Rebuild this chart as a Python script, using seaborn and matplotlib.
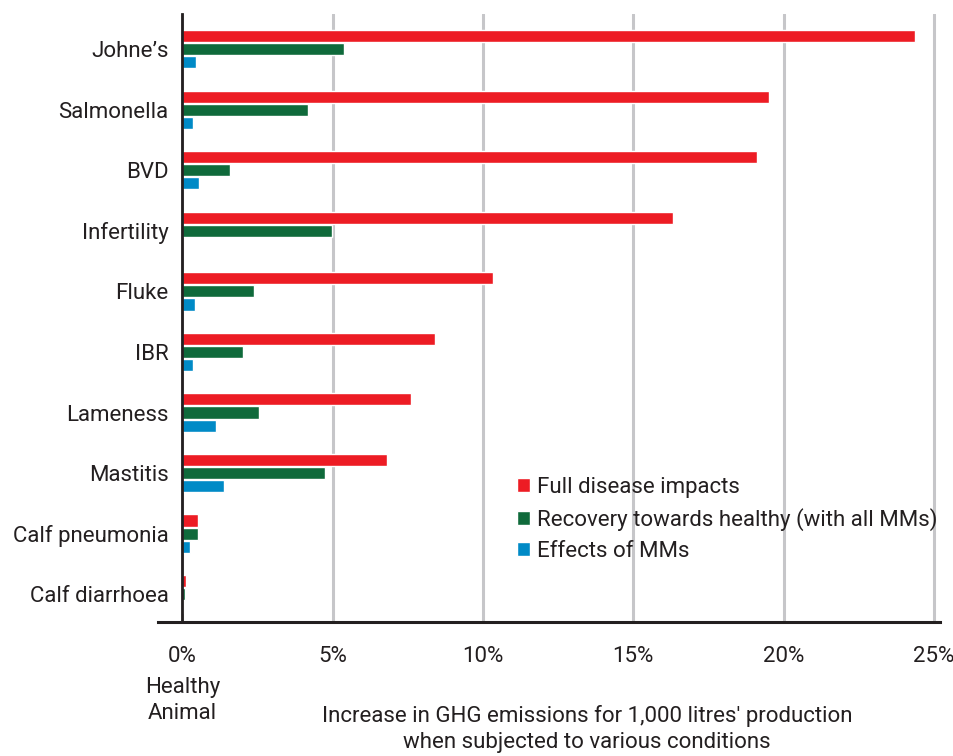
import pandas as pd
import seaborn as sns
import matplotlib.pyplot as plt
import matplotlib.transforms as mtransforms

# values (% increase in GHG per 1,000 litres)
conditions = ["Johne\u2019s", "Salmonella", "BVD", "Infertility", "Fluke", "IBR",
              "Lameness", "Mastitis", "Calf pneumonia", "Calf diarrhoea"]
full_impact = [24.38, 19.51, 19.12, 16.33, 10.34, 8.39, 7.59, 6.80, 0.51, 0.11]
recovery = [5.38, 4.18, 1.57, 4.99, 2.40, 2.03, 2.56, 4.74, 0.51, 0.08]
mm_effects = [0.44, 0.37, 0.54, 0.0, 0.41, 0.34, 1.13, 1.37, 0.24, 0.03]

series_names = ["Full disease impacts",
                "Recovery towards healthy (with all MMs)",
                "Effects of MMs"]
colours = ["#ED1C24", "#0F6A3B", "#008AC6"]
x_ticks = [0, 5, 10, 15, 20, 25]
x_tick_labels = ["0%", "5%", "10%", "15%", "20%", "25%"]

df = pd.DataFrame({
    "Condition": conditions * 3,
    "Series": [series_names[0]] * 10 + [series_names[1]] * 10 + [series_names[2]] * 10,
    "Value": full_impact + recovery + mm_effects,
})

sns.set_theme(style="white")
plt.rcParams['font.family'] = ['Roboto', 'DejaVu Sans']
text_col = "#231F20"

fig = plt.figure(figsize=(9.54, 7.56), dpi=100)
ax = fig.add_axes([0.1656, 0.1772, 0.8197, 0.8042])

sns.barplot(data=df, y="Condition", x="Value", hue="Series", hue_order=series_names,
            palette=colours, orient="h", width=0.65, gap=0.08, saturation=1,
            errorbar=None, ax=ax)

ax.set_xlim(-0.81, 25.2)
ax.set_ylim(9.46, -0.58)

# axes styling
ax.spines['top'].set_visible(False)
ax.spines['right'].set_visible(False)
ax.spines['left'].set_position(('data', 0))
ax.spines['left'].set_color(text_col)
ax.spines['left'].set_linewidth(2.0)
ax.spines['bottom'].set_color(text_col)
ax.spines['bottom'].set_linewidth(2.2)

ax.set_xticks(x_ticks)
ax.set_xticklabels(x_tick_labels)
ax.xaxis.grid(True, color="#C6C6C9", lw=2.2)
ax.yaxis.grid(False)
ax.set_axisbelow(True)
ax.tick_params(axis='x', length=0, pad=17, labelsize=16, colors=text_col)
ax.tick_params(axis='y', length=0, pad=10, labelsize=16, colors=text_col)
ax.set_ylabel("")

ax.set_xlabel("Increase in GHG emissions for 1,000 litres' production\n"
              "when subjected to various conditions",
              fontsize=16, color=text_col, linespacing=1.3)
ax.xaxis.set_label_coords(0.5486, -0.137)

trans = mtransforms.blended_transform_factory(ax.transData, ax.transAxes)
ax.text(0, -0.09, "Healthy\nAnimal", transform=trans, ha='center', va='top',
        fontsize=16, color=text_col, linespacing=1.35)

ax.legend(loc='upper left', bbox_to_anchor=(0.459, 0.2385), frameon=False,
          fontsize=16, handlelength=0.6, handleheight=0.6, handletextpad=0.3,
          labelspacing=0.45, borderaxespad=0, borderpad=0, labelcolor=text_col)

fig.savefig("out.png", dpi=100)
